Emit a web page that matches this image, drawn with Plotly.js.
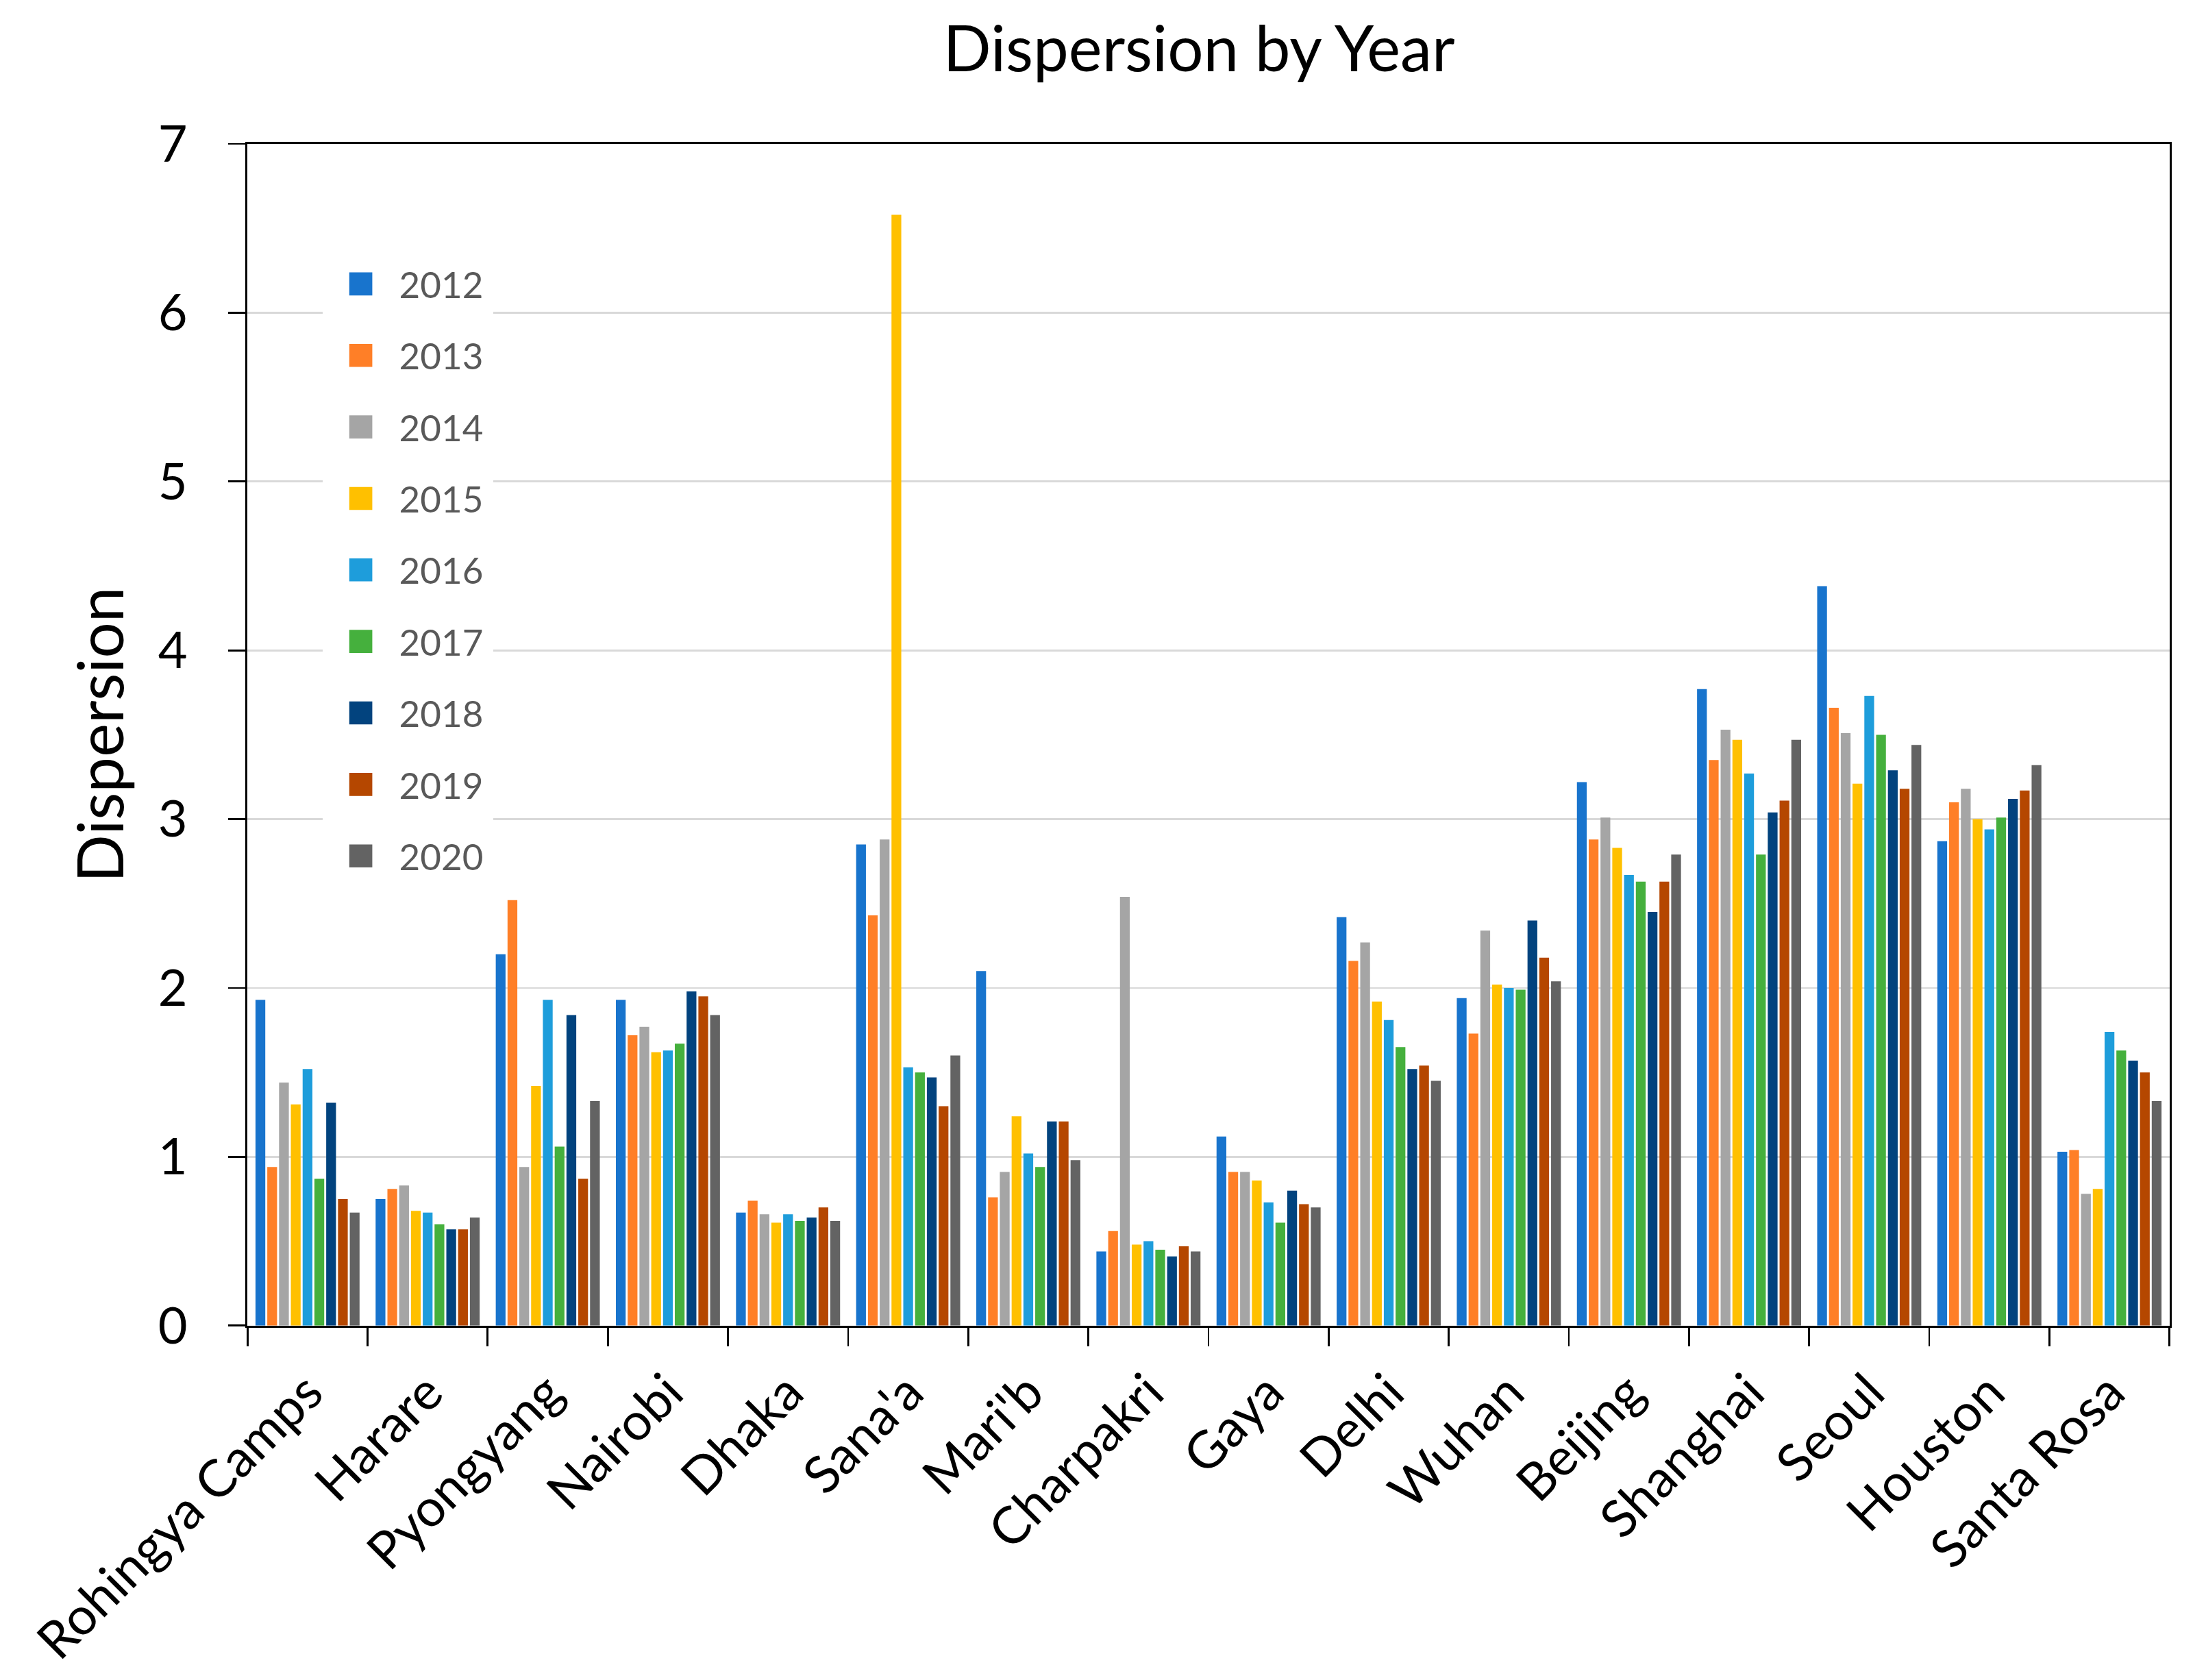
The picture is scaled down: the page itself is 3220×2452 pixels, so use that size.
<!DOCTYPE html>
<html>
<head>
<meta charset="utf-8">
<script src="https://cdn.plot.ly/plotly-3.0.1.min.js"></script>
<style>
html, body { margin: 0; padding: 0; background: #ffffff; overflow: hidden; width: 3220px; height: 2452px; }
#chart { position: absolute; left: 0; top: 0; width: 1150px; height: 875.714px; }
</style>
</head>
<body>
<div id="chart"></div>
<script>
// ---- data ----
const cities = ["Rohingya Camps","Harare","Pyongyang","Nairobi","Dhaka","Sana'a","Mari'b","Charpakri","Gaya","Delhi","Wuhan","Beijing","Shanghai","Seoul","Houston","Santa Rosa"];
const years = ["2012","2013","2014","2015","2016","2017","2018","2019","2020"];
const v2012 = [1.93,0.75,2.20,1.93,0.67,2.85,2.10,0.44,1.12,2.42,1.94,3.22,3.77,4.38,2.87,1.03];
const v2013 = [0.94,0.81,2.52,1.72,0.74,2.43,0.76,0.56,0.91,2.16,1.73,2.88,3.35,3.66,3.10,1.04];
const v2014 = [1.44,0.83,0.94,1.77,0.66,2.88,0.91,2.54,0.91,2.27,2.34,3.01,3.53,3.51,3.18,0.78];
const v2015 = [1.31,0.68,1.42,1.62,0.61,6.58,1.24,0.48,0.86,1.92,2.02,2.83,3.47,3.21,3.00,0.81];
const v2016 = [1.52,0.67,1.93,1.63,0.66,1.53,1.02,0.50,0.73,1.81,2.00,2.67,3.27,3.73,2.94,1.74];
const v2017 = [0.87,0.60,1.06,1.67,0.62,1.50,0.94,0.45,0.61,1.65,1.99,2.63,2.79,3.50,3.01,1.63];
const v2018 = [1.32,0.57,1.84,1.98,0.64,1.47,1.21,0.41,0.80,1.52,2.40,2.45,3.04,3.29,3.12,1.57];
const v2019 = [0.75,0.57,0.87,1.95,0.70,1.30,1.21,0.47,0.72,1.54,2.18,2.63,3.11,3.18,3.17,1.50];
const v2020 = [0.67,0.64,1.33,1.84,0.62,1.60,0.98,0.44,0.70,1.45,2.04,2.79,3.47,3.44,3.32,1.33];
const seriesValues = [v2012, v2013, v2014, v2015, v2016, v2017, v2018, v2019, v2020];
const colors = ["#1874CD","#FF7F27","#A5A5A5","#FFC000","#1E9DDB","#45B03D","#02437E","#B54700","#636363"];

// ---- render (drawn at 1/S scale, then scaled up) ----
const S = 2.8;
const FONT = "Lato, 'Open Sans', sans-serif";

const traces = years.map((y, i) => ({
  type: "bar",
  name: y,
  x: cities,
  y: seriesValues[i],
  legendgroup: "g" + y,
  marker: { color: colors[i], line: { width: 0 } }
}));

const layout = {
  width: 1150,
  height: 875.714,
  paper_bgcolor: "#ffffff",
  plot_bgcolor: "#ffffff",
  margin: { l: 128.6, r: 18.6, t: 75, b: 185, autoexpand: false },
  font: { family: FONT, color: "#000000" },
  title: {
    text: "Dispersion by Year",
    font: { family: FONT, size: 33, color: "#000000" },
    x: 0.5435, xref: "container", xanchor: "center",
    y: 0.9706, yref: "container", yanchor: "middle"
  },
  barmode: "group",
  bargap: 0.117,
  bargroupgap: 0.17,
  showlegend: true,
  legend: {
    x: 0.039, y: 0.912, xanchor: "left", yanchor: "top",
    bgcolor: "#ffffff",
    borderwidth: 0,
    font: { family: FONT, size: 18.9, color: "#595959" },
    traceorder: "grouped",
    tracegroupgap: 9.7
  },
  xaxis: {
    type: "category",
    automargin: false,
    showline: true, linecolor: "#000000", linewidth: 1.4, mirror: true,
    ticks: "outside", tickson: "boundaries", ticklen: 9.6, tickwidth: 1.4, tickcolor: "#000000",
    tickangle: -45,
    tickfont: { family: FONT, size: 27, color: "#000000" },
    ticklabelstandoff: 7,
    showgrid: false,
    zeroline: false
  },
  yaxis: {
    automargin: false,
    range: [0, 7], dtick: 1, tick0: 0,
    showline: true, linecolor: "#000000", linewidth: 1.4, mirror: true,
    ticks: "outside", ticklen: 8.75, tickwidth: 1.4, tickcolor: "#000000",
    tickfont: { family: FONT, size: 26.4, color: "#000000" },
    ticklabelstandoff: 16,
    showgrid: true, gridcolor: "#D9D9D9", gridwidth: 1,
    zeroline: false,
    title: { text: "Dispersion", font: { family: FONT, size: 33, color: "#000000" }, standoff: 7 }
  }
};

Plotly.newPlot("chart", traces, layout, { displayModeBar: false, responsive: false }).then(() => {
  const el = document.getElementById("chart");
  el.style.transformOrigin = "0 0";
  el.style.transform = "scale(" + S + ")";
});
</script>
</body>
</html>
